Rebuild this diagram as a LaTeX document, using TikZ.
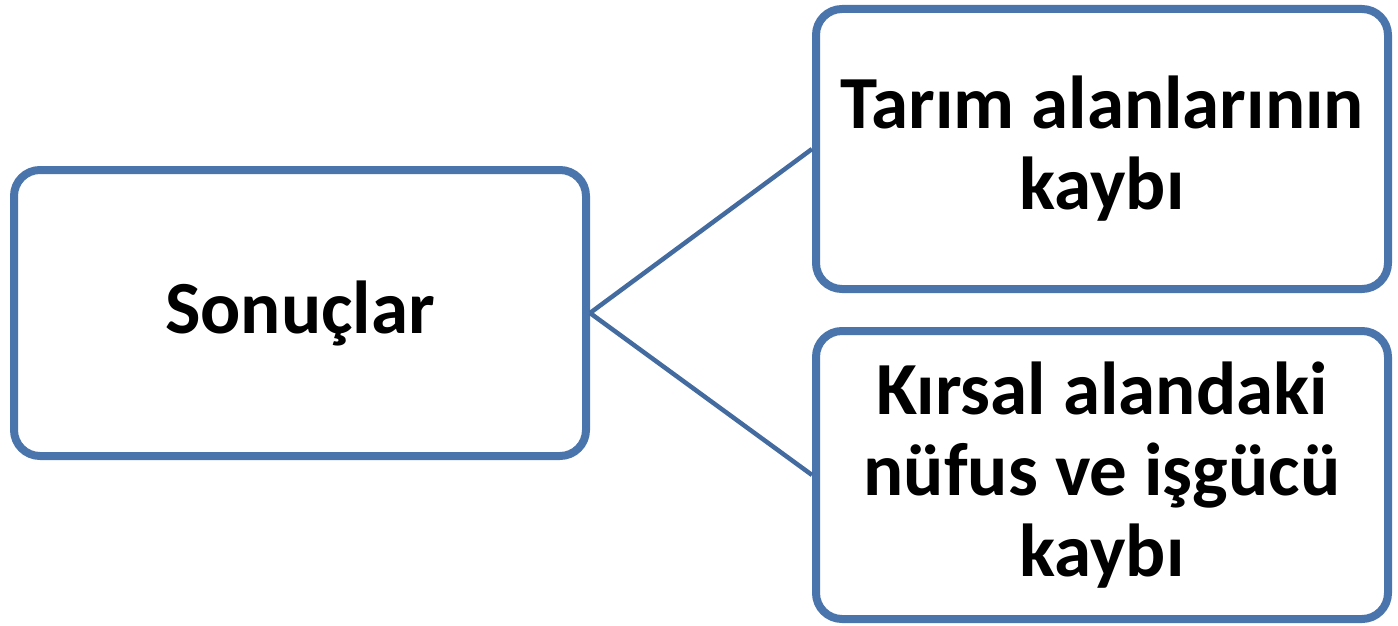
\documentclass[tikz,border=0pt]{standalone}
\usepackage{fontspec}
\setmainfont{Carlito}
\usetikzlibrary{shadows}
\definecolor{boxblue}{HTML}{4A74AC}
\definecolor{lineblue}{HTML}{436B9F}
\tikzset{
  card/.style={draw=boxblue, line width=8pt, rounded corners=26pt, fill=white,
    rectangle, minimum width=572pt, inner sep=0pt, align=center,
    font=\bfseries\fontsize{75}{81}\selectfont,
    drop shadow={opacity=0.22, shadow xshift=2pt, shadow yshift=-3pt}},
  link/.style={draw=lineblue, line width=4.5pt}
}
\begin{document}
\begin{tikzpicture}[x=1pt,y=-1pt]
\useasboundingbox (0,0) rectangle (1398,626);
\node[card, minimum height=286pt] (res) at (300,313) {Sonuçlar};
\node[card, minimum height=280pt] (tarim) at (1102,149) {Tarım alanlarının\\kaybı};
\node[card, minimum height=288pt] (kirsal) at (1102,475) {Kırsal alandaki\\nüfus ve işgücü\\kaybı};
\draw[link] (res.east) -- (tarim.west);
\draw[link] (res.east) -- (kirsal.west);
\end{tikzpicture}
\end{document}
